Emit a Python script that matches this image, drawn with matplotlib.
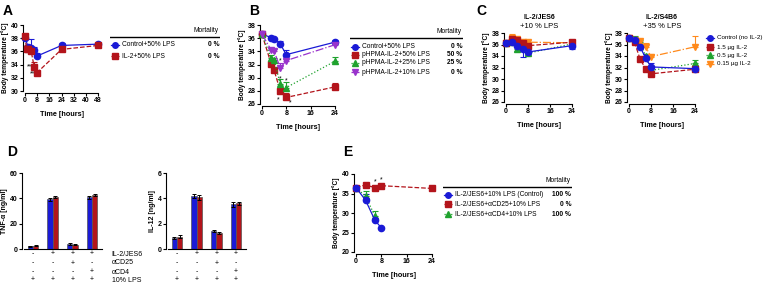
import numpy as np
import matplotlib
matplotlib.use('Agg')
import matplotlib.pyplot as plt
import matplotlib.transforms as mtrans

plt.rcParams['font.family'] = ['Liberation Sans', 'DejaVu Sans']
plt.rcParams['font.size'] = 5
plt.rcParams['axes.linewidth'] = 0.8

W, H = 764, 283
BLUE, RED, GREEN, PURPLE, ORANGE = '#1a1ad6', '#b3141b', '#1fa22e', '#9933cc', '#ff8a1c'

# ---- panel A data ----
a_t_ctrl = [0, 2, 3, 4, 6, 8, 24, 48]
a_ctrl = [38.1, 36.7, 36.5, 36.5, 36.2, 35.3, 36.9, 37.1]
a_ctrl_err = [0.2, 0.3, 0.3, 1.4, 0.4, 0.4, 0.3, 0.2]
a_t_il2 = [0, 1, 2, 4, 6, 8, 24, 48]
a_il2 = [38.3, 36.4, 36.4, 36.1, 33.7, 32.8, 36.3, 36.9]
a_il2_err = [0.2, 0.6, 0.3, 0.2, 0.7, 0.2, 0.3, 0.2]

# ---- panel B data ----
b_t = [0, 3, 4, 6, 8, 24]
b_ctrl = [36.6, 36.1, 35.9, 35.1, 33.5, 35.4]
b_ctrl_err = [0.2, 0.2, 0.2, 0.4, 0.7, 0.3]
b_50 = [36.6, 32.1, 31.1, 28.0, 27.0, 28.6]
b_50_err = [0.1, 0.3, 0.3, 0.5, 0.7, 0.6]
b_25 = [36.6, 33.0, 32.7, 29.0, 28.5, 32.5]
b_25_err = [0.1, 0.4, 0.3, 0.8, 0.8, 0.6]
b_10 = [36.6, 34.2, 34.0, 31.5, 32.6, 35.0]
b_10_err = [0.1, 0.3, 0.3, 0.8, 0.3, 0.3]

# ---- panel C data ----
c_t = [0, 2, 4, 6, 8, 24]
cj_ctrl = [36.3, 36.5, 35.8, 35.3, 34.7, 35.8]
cj_ctrl_err = [0.2, 0.2, 0.3, -1.4, -0.4, -0.5]
cj_15 = [36.3, 37.0, 36.7, 36.2, 35.8, 36.4]
cj_15_err = [0.2, 0.5, 0.3, 0.5, 0.6, 0.2]
cj_05 = [36.3, 36.5, 35.3, 35.8, 34.5, 36.1]
cj_05_err = [0.1, 0.1, -0.4, 0.1, -0.3, 0.1]
cj_015 = [36.3, 37.2, 36.9, 36.5, 36.4, 36.3]
cj_015_err = [0.1, 0.6, 0.4, 0.4, 0.3, 0.2]

cs_ctrl = [37.1, 36.8, 35.6, 33.7, 32.1, 31.8]
cs_ctrl_err = [0.2, 0.3, 0.4, 0.6, 0.6, 0.3]
cs_15 = [37.1, 36.4, 33.5, 31.8, 30.9, 31.7]
cs_15_err = [0.2, 0.3, 0.3, 0.3, 0.3, 0.2]
cs_05 = [37.1, 37.0, 36.5, 34.0, 31.5, 32.7]
cs_05_err = [0.2, 0.4, 0.3, 0.4, 0.5, 0.6]
cs_015 = [37.1, 36.8, 36.6, 35.6, 33.9, 35.6]
cs_015_err = [0.2, 0.3, 0.3, 0.6, 0.4, 1.8]

# ---- panel D data ----
d_groups = [0, 1, 2, 3]
tnf_a = [2.0, 39.2, 4.0, 40.8]
tnf_b = [2.6, 41.3, 3.4, 42.3]
tnf_err_a = [0.5, 1.2, 0.5, 1.2]
tnf_err_b = [0.5, 0.8, 0.5, 0.8]
il12_a = [0.85, 4.2, 1.45, 3.55]
il12_b = [0.95, 4.1, 1.25, 3.6]
il12_err_a = [0.08, 0.15, 0.08, 0.2]
il12_err_b = [0.12, 0.2, 0.06, 0.15]
d_rows = ['IL-2/JES6', '\u03b1CD25', '\u03b1CD4', '10% LPS']
d_signs = [['-', '+', '+', '+'],
           ['-', '-', '+', '-'],
           ['-', '-', '-', '+'],
           ['+', '+', '+', '+']]

# ---- panel E data ----
e_t = [0, 3, 6, 8, 24]
e_ctrl = [36.5, 33.3, 28.1, 26.2]
e_ctrl_err = [0.2, 1.5, 0.5, 0.2]
e_cd25 = [36.5, 37.2, 36.5, 37.0, 36.3]
e_cd25_err = [0.2, 0.6, 0.4, 0.4, 0.3]
e_cd4 = [36.5, 34.3, 29.2]
e_cd4_err = [0.2, 1.3, 1.3]

fig = plt.figure(figsize=(W / 100, H / 100), dpi=100)


def px_axes(x0, y0, x1, y1):
    return fig.add_axes([x0 / W, 1 - y1 / H, (x1 - x0) / W, (y1 - y0) / H])


def style(ax):
    for s in ('top', 'right'):
        ax.spines[s].set_visible(False)
    ax.spines['left'].set_position(('outward', 1.5))
    ax.spines['bottom'].set_position(('outward', 1.5))
    ax.tick_params(length=2, width=0.8, pad=1.0, labelsize=5)
    for lb in ax.get_xticklabels() + ax.get_yticklabels():
        lb.set_fontweight('bold')


def series(ax, t, y, err, color, marker, ls, ms=4.5):
    t = t[:len(y)]
    e = np.array(err[:len(y)])
    lo = np.where(e < 0, -e, 0)
    hi = np.where(e > 0, e, 0)
    ax.errorbar(t, y, yerr=[lo, hi], color=color, marker=marker, ls=ls, lw=0.9,
                ms=ms, capsize=2, elinewidth=0.8, capthick=0.8, clip_on=False,
                zorder=3)


def legend(x0, x1, y_head, rows, mort=None, fs=4.8):
    # rows: list of (label, color, marker, ls, ycenter_px)
    ax = px_axes(x0, 0, x1, H)
    ax.set_xlim(x0, x1)
    ax.set_ylim(H, 0)
    ax.axis('off')
    if mort is not None:
        ax.plot([x0, x1], [y_head, y_head], color='k', lw=1.0)
        ax.text(x1 - 1, y_head - 3, 'Mortality', ha='right', va='bottom', fontsize=fs)
    for i, (lab, c, m, ls, yc) in enumerate(rows):
        ax.plot([x0 + 1, x0 + 9], [yc, yc], color=c, ls=ls, lw=0.9)
        ax.plot([x0 + 5], [yc], color=c, marker=m, ms=4)
        ax.text(x0 + 12, yc, lab, va='center', ha='left', fontsize=fs)
        if mort is not None:
            ax.text(x1 - 1, yc, mort[i], va='center', ha='right', fontsize=fs,
                    fontweight='bold')


def temp_axes(ax, xt, yt, xl, yl):
    ax.set_xlim(xl)
    ax.set_ylim(yl)
    ax.set_xticks(xt)
    ax.set_yticks(yt)
    ax.set_xlabel('Time [hours]', fontweight='bold', fontsize=5.2, labelpad=5)
    ax.set_ylabel('Body temperature [\u00b0C]', fontweight='bold', fontsize=4.8, labelpad=1)
    style(ax)


def panel_letter(x, y, s):
    fig.text(x / W, 1 - y / H, s, fontsize=10, fontweight='bold', va='center')


# ===== A =====
axA = px_axes(25, 25, 98, 91)
series(axA, a_t_ctrl, a_ctrl, a_ctrl_err, BLUE, 'o', '-')
series(axA, a_t_il2, a_il2, a_il2_err, RED, 's', '--')
temp_axes(axA, [0, 8, 16, 24, 32, 40, 48], [30, 32, 34, 36, 38, 40], (0, 48), (30, 40))
axA.text(5, 33.4, '**', ha='right', fontsize=5)
axA.text(7, 32.4, '**', ha='right', fontsize=5)
panel_letter(3, 11, 'A')
legend(110, 220, 37, [('Control+50% LPS', BLUE, 'o', '-', 45),
                      ('IL-2+50% LPS', RED, 's', '--', 56)], ['0 %', '0 %'])

# ===== B =====
axB = px_axes(262, 25, 335, 104)
series(axB, b_t, b_ctrl, b_ctrl_err, BLUE, 'o', '-')
series(axB, b_t, b_50, b_50_err, RED, 's', '--')
series(axB, b_t, b_25, b_25_err, GREEN, '^', ':')
series(axB, b_t, b_10, b_10_err, PURPLE, 'v', '-.')
temp_axes(axB, [0, 8, 16, 24], [26, 28, 30, 32, 34, 36, 38], (0, 24), (26, 38))
axB.text(6, 32.3, '*', ha='center', fontsize=5)
axB.text(6, 29.6, '*', ha='center', fontsize=5)
axB.text(8, 29.3, '*', ha='center', fontsize=5)
axB.text(5.5, 26.4, '*', ha='center', fontsize=5)
axB.text(9.3, 26.0, '*', ha='center', fontsize=5)
panel_letter(249, 11, 'B')
legend(350, 463, 38, [('Control+50% LPS', BLUE, 'o', '-', 47),
                      ('pHPMA-IL-2+50% LPS', RED, 's', '--', 55),
                      ('pHPMA-IL-2+25% LPS', GREEN, '^', ':', 63),
                      ('pHPMA-IL-2+10% LPS', PURPLE, 'v', '-.', 72)],
       ['0 %', '50 %', '25 %', '0 %'])

# ===== C =====
c_panels = [(506, 'IL-2/JES6', '+10 % LPS',
             [cj_05, cj_015, cj_15, cj_ctrl], [cj_05_err, cj_015_err, cj_15_err, cj_ctrl_err]),
            (629, 'IL-2/S4B6', '+35 % LPS',
             [cs_05, cs_015, cs_15, cs_ctrl], [cs_05_err, cs_015_err, cs_15_err, cs_ctrl_err])]
c_styles = [(GREEN, '^', ':'), (ORANGE, 'v', '-.'), (RED, 's', '--'), (BLUE, 'o', '-')]
for x0, t1, t2, ys, es in c_panels:
    ax = px_axes(x0, 33, x0 + 66, 102)
    for y, e, (c, m, ls) in zip(ys, es, c_styles):
        series(ax, c_t, y, e, c, m, ls)
    temp_axes(ax, [0, 8, 16, 24], [26, 28, 30, 32, 34, 36, 38], (0, 24), (26, 38))
    ax.text(0.5, 1.09, t2, transform=ax.transAxes, ha='center', va='center', fontsize=5.5)
    ax.text(0.5, 1.22, t1, transform=ax.transAxes, ha='center', va='center',
            fontsize=5, fontweight='bold')
panel_letter(476, 11, 'C')
legend(705, 764, None, [('Control (no IL-2)', BLUE, 'o', '-', 38),
                        ('1.5 \u00b5g IL-2', RED, 's', '--', 47),
                        ('0.5 \u00b5g IL-2', GREEN, '^', ':', 55),
                        ('0.15 \u00b5g IL-2', ORANGE, 'v', '-.', 64)], fs=4.5)

# ===== D =====
panel_letter(7, 152, 'D')
row_y = [254, 263, 272, 280]


def bars(ax, a, b, ea, eb, ylim, yt, ylab, labels):
    x = np.array(d_groups)
    w = 0.27
    ax.bar(x - w / 2, a, w, color=BLUE, edgecolor='#555555', lw=0.5,
           yerr=ea, error_kw=dict(lw=0.7, capsize=1.5, capthick=0.7))
    ax.bar(x + w / 2, b, w, color=RED, edgecolor='#555555', lw=0.5,
           yerr=eb, error_kw=dict(lw=0.7, capsize=1.5, capthick=0.7))
    ax.set_xlim(-0.45, 3.5)
    ax.set_ylim(ylim)
    ax.set_yticks(yt)
    ax.set_xticks([])
    ax.set_ylabel(ylab, fontweight='bold', fontsize=5, labelpad=1.5)
    style(ax)
    ax.spines['bottom'].set_position(('outward', 0))
    tr = mtrans.blended_transform_factory(ax.transData, fig.transFigure)
    for r, yp in enumerate(row_y):
        for g in d_groups:
            ax.text(g, 1 - yp / H, d_signs[r][g], transform=tr, ha='center',
                    va='center', fontsize=5)
        if labels:
            ax.text(4.0, 1 - yp / H, d_rows[r], transform=tr, ha='left',
                    va='center', fontsize=5)


axD1 = px_axes(24, 173, 102, 249)
bars(axD1, tnf_a, tnf_b, tnf_err_a, tnf_err_b, (0, 60), [0, 20, 40, 60],
     'TNF-\u03b1 [ng/ml]', True)
axD2 = px_axes(168, 173, 246, 249)
bars(axD2, il12_a, il12_b, il12_err_a, il12_err_b, (0, 6), [0, 2, 4, 6],
     'IL-12 [ng/ml]', False)

# ===== E =====
axE = px_axes(356, 174, 432, 252)
series(axE, e_t, e_cd4, e_cd4_err, GREEN, '^', ':')
series(axE, e_t, e_cd25, e_cd25_err, RED, 's', '--')
series(axE, e_t, e_ctrl, e_ctrl_err, BLUE, 'o', '-')
temp_axes(axE, [0, 8, 16, 24], [20, 25, 30, 35, 40], (0, 24), (20, 40))
axE.text(6, 37.6, '*', ha='center', fontsize=5)
axE.text(8, 38.1, '*', ha='center', fontsize=5)
panel_letter(343, 152, 'E')
legend(443, 572, 187, [('IL-2/JES6+10% LPS (Control)', BLUE, 'o', '-', 195),
                       ('IL-2/JES6+\u03b1CD25+10% LPS', RED, 's', '--', 204),
                       ('IL-2/JES6+\u03b1CD4+10% LPS', GREEN, '^', ':', 214)],
       ['100 %', '0 %', '100 %'])

fig.savefig('out.png', dpi=100)
